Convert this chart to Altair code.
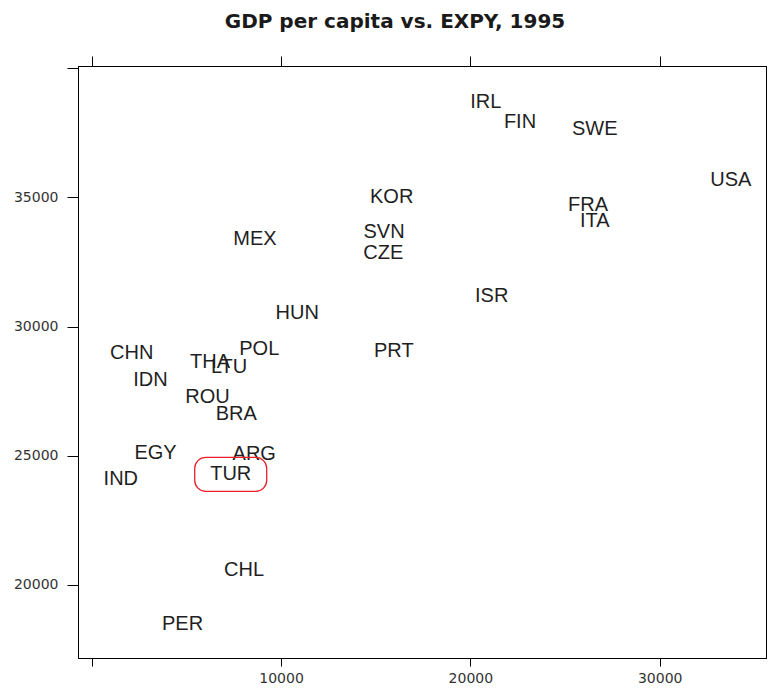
import altair as alt
import pandas as pd

codes = ["IRL", "FIN", "SWE", "USA", "KOR", "FRA", "ITA", "SVN", "CZE", "MEX",
         "ISR", "HUN", "PRT", "CHN", "POL", "THA", "LTU", "IDN", "ROU", "BRA",
         "EGY", "ARG", "IND", "TUR", "CHL", "PER"]
gdp_pc = [20810, 22622, 26567, 33756, 15845, 26214, 26567, 15439, 15402, 8625,
          21127, 10854, 15956, 2113, 8852, 6248, 7256, 3106, 6116, 7637,
          3370, 8583, 1537, 7342, 8044, 4796]
expy = [38688, 37914, 37643, 35658, 35023, 34702, 34083, 33669, 32844, 33394,
        31169, 30522, 29044, 28959, 29137, 28638, 28444, 27941, 27283, 26606,
        25093, 25077, 24110, 24280, 20588, 18498]
highlight = ["TUR"]

x_ticks = [0, 10000, 20000, 30000]
y_ticks = [20000, 25000, 30000, 35000, 40000]
x_domain = [-724, 35615]
y_domain = [17175, 40081]

df = pd.DataFrame({"code": codes, "gdp": gdp_pc, "expy": expy})

xs = alt.Scale(domain=x_domain, nice=False, zero=False)
ys = alt.Scale(domain=y_domain, nice=False, zero=False)

common_axis = dict(grid=False, domain=True, domainColor="black", tickColor="black",
                   domainWidth=1, tickWidth=1, title=None,
                   labelFont="DejaVu Sans", labelFontSize=14, labelColor="#333333")

x_bottom = alt.Axis(orient="bottom", values=x_ticks, tickSize=8, labelPadding=5,
                    labelExpr="datum.value == 0 ? '' : format(datum.value, 'd')",
                    **common_axis)
y_left = alt.Axis(orient="left", values=y_ticks, tickSize=11, labelPadding=9,
                  labelExpr="datum.value == 40000 ? '' : format(datum.value, 'd')",
                  **common_axis)
x_top = alt.Axis(orient="top", values=x_ticks, tickSize=10, labels=False, **common_axis)
y_right = alt.Axis(orient="right", values=y_ticks, tickSize=8, labels=False, **common_axis)

text = alt.Chart(df).mark_text(
    font="Liberation Sans", fontSize=20, color="#1f1f1f",
    align="center", baseline="middle"
).encode(
    x=alt.X("gdp:Q", scale=xs, axis=x_bottom),
    y=alt.Y("expy:Q", scale=ys, axis=y_left),
    text="code:N",
)

box = alt.Chart(df).transform_filter(
    alt.FieldOneOfPredicate(field="code", oneOf=highlight)
).mark_rect(
    filled=False, stroke="#e8202a", strokeWidth=1.3, width=72, height=34, cornerRadius=11
).encode(
    x=alt.X("gdp:Q", scale=xs, axis=x_top),
    y=alt.Y("expy:Q", scale=ys, axis=y_right),
)

chart = alt.layer(text, box).resolve_axis(
    x="independent", y="independent"
).properties(
    width=688,
    height=592,
    autosize=alt.AutoSizeParams(type="none"),
    padding={"left": 70, "top": 58, "right": 1, "bottom": 26},
    title=alt.TitleParams(
        "GDP per capita vs. EXPY, 1995",
        font="DejaVu Sans", fontSize=20, fontWeight="bold", color="#1a1a1a",
        anchor="middle", dx=-27, offset=24,
    ),
).configure_view(stroke="black", strokeWidth=1)

chart.save("out.html", embed_options={"renderer": "svg", "actions": False})
